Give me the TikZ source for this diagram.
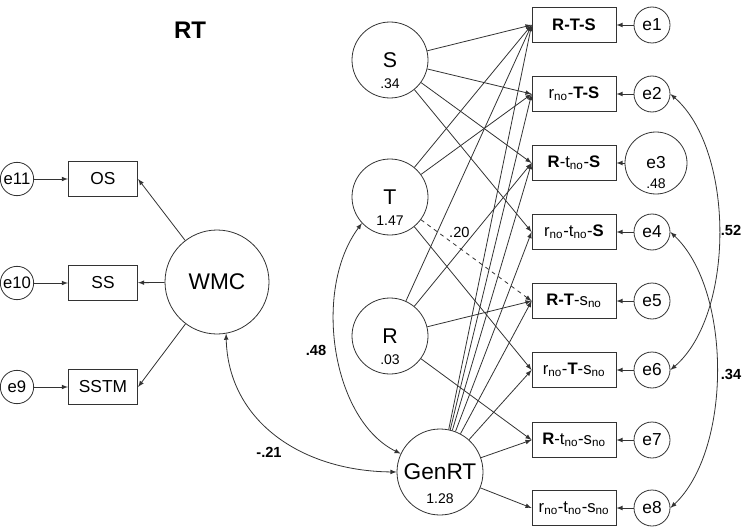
\documentclass[tikz,border=0pt]{standalone}
\usepackage{fontspec}
\setmainfont{Liberation Sans}
\usepackage{tikz}

\begin{document}
\begin{tikzpicture}[x=0.75pt, y=-0.75pt, line width=0.6pt, draw=black!80,
    font=\fontsize{12.5}{14}\selectfont,
    obs/.style={draw=black!80, rectangle, minimum width=63pt, minimum height=26pt, inner sep=1pt},
    wobs/.style={obs, minimum width=52pt, font=\fontsize{13}{15}\selectfont},
    lat/.style={draw=black!80, circle, inner sep=0pt, font=\fontsize{16}{18}\selectfont},
    err/.style={draw=black!80, circle, minimum size=27pt, inner sep=0pt, font=\fontsize{13}{15}\selectfont},
    werr/.style={err, minimum size=25pt, font=\fontsize{12.5}{14}\selectfont},
    var/.style={font=\fontsize{10.5}{12}\selectfont, inner sep=0pt},
    coef/.style={font=\bfseries\fontsize{11}{13}\selectfont},
    reg/.style={draw=black!80, -latex},
    cov/.style={draw=black!80, latex-latex}]
    \useasboundingbox (0,0) rectangle (746,528);

    % Title
    \node[font=\bfseries\fontsize{18}{20}\selectfont] (title) at (190,30) {RT};

    % Nodes
    \node[lat, minimum size=57pt] (S) at (390,60) {S};
    \node[lat, minimum size=57pt] (T) at (390,197) {T};
    \node[lat, minimum size=57pt] (R) at (390,336) {R};
    \node[lat, minimum size=64.5pt, font=\fontsize{17}{19}\selectfont] (GenRT) at (440,472) {GenRT};
    \node[lat, minimum size=78pt, font=\fontsize{17}{19}\selectfont] (WMC) at (217,282) {WMC};

    \path (S.center) ++(0,24) node[var] (vS) {.34};
    \path (T.center) ++(0,24) node[var] (vT) {1.47};
    \path (R.center) ++(0,24) node[var] (vR) {.03};
    \path (GenRT.center) ++(0,27) node[var] (vG) {1.28};

    \node[obs] (b1) at (574,25)  {\textbf{R-T-S}};
    \node[obs] (b2) at (574,94)  {r\textsubscript{no}-\textbf{T-S}};
    \node[obs] (b3) at (574,163) {\textbf{R}-t\textsubscript{no}-\textbf{S}};
    \node[obs] (b4) at (574,232) {r\textsubscript{no}-t\textsubscript{no}-\textbf{S}};
    \node[obs] (b5) at (574,301) {\textbf{R-T}-s\textsubscript{no}};
    \node[obs] (b6) at (574,370) {r\textsubscript{no}-\textbf{T}-s\textsubscript{no}};
    \node[obs] (b7) at (574,440) {\textbf{R}-t\textsubscript{no}-s\textsubscript{no}};
    \node[obs] (b8) at (574,508) {r\textsubscript{no}-t\textsubscript{no}-s\textsubscript{no}};

    \node[err] (e1) at (652,25)  {e1};
    \node[err] (e2) at (652,94)  {e2};
    \node[err, minimum size=46.5pt] (e3) at (656,163) {e3};
    \path (e3.center) ++(0,21) node[var] (ve3) {.48};
    \node[err] (e4) at (652,232) {e4};
    \node[err] (e5) at (652,301) {e5};
    \node[err] (e6) at (652,370) {e6};
    \node[err] (e7) at (652,440) {e7};
    \node[err] (e8) at (652,508) {e8};

    \node[wobs] (OS) at (103,179) {OS};
    \node[wobs] (SS) at (103,283) {SS};
    \node[wobs] (SSTM) at (103,387) {SSTM};
    \node[werr] (e11) at (17,179) {e11};
    \node[werr] (e10) at (17,283) {e10};
    \node[werr] (e9) at (17,387) {e9};

    % Lines
    \foreach \b in {b1,b2,b3,b4} \draw[reg] (S) -- (\b.west);
    \foreach \b in {b1,b2,b6} \draw[reg] (T) -- (\b.west);
    \draw[reg, dashed] (T) -- (b5.west) node[pos=0.24, above right, inner sep=1pt, font=\fontsize{11}{13}\selectfont] (l20) {.20};
    \foreach \b in {b1,b3,b5,b7} \draw[reg] (R) -- (\b.west);
    \foreach \b in {b1,b2,b3,b4,b5,b6,b7,b8} \draw[reg] (GenRT) -- (\b.west);
    \foreach \i in {1,...,8} \draw[reg] (e\i) -- (b\i);

    \draw[reg] (WMC) -- (OS.east);
    \draw[reg] (WMC) -- (SS);
    \draw[reg] (WMC) -- (SSTM.east);
    \draw[reg] (e11) -- (OS);
    \draw[reg] (e10) -- (SS);
    \draw[reg] (e9) -- (SSTM);

    % Covariances
    \draw[cov] (e2.east) .. controls (735,150) and (735,315) .. (e6.east);
    \draw[cov] (e4.east) .. controls (732,290) and (732,450) .. (e8.east);
    \draw[cov] (T.223) .. controls (312,290) and (332,420) .. (GenRT.155);
    \draw[cov] (WMC.-80) .. controls (228,420) and (300,471) .. (GenRT.west);
    \node[coef] (c52) at (731,230) {.52};
    \node[coef] (c34) at (731,374) {.34};
    \node[coef] (c48) at (316,350) {.48};
    \node[coef] (c21) at (269,452) {-.21};
\end{tikzpicture}
\end{document}
